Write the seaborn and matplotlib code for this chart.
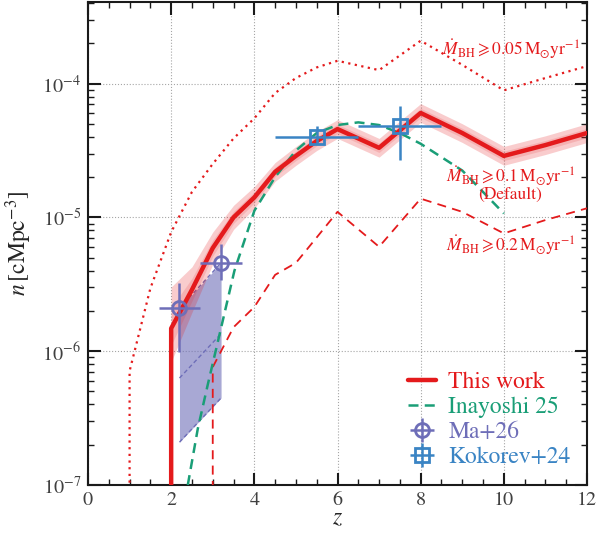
import numpy as np
import pandas as pd
import matplotlib
matplotlib.use("Agg")
import matplotlib.pyplot as plt
import seaborn as sns
from matplotlib.ticker import MultipleLocator, LogLocator

# ---------------- data ----------------
# This work (Mdot >= 0.1, default); first point lies below the axis (vertical drop)
this_z = [2, 2, 2.5, 3, 3.5, 4, 4.5, 5, 5.5, 6, 7, 8, 9, 10, 11, 12]
this_n = [1e-9, 1.48e-6, 2.88e-6, 5.9e-6, 1.0e-5, 1.41e-5, 2.19e-5, 2.88e-5,
          3.72e-5, 4.57e-5, 3.31e-5, 6.03e-5, 4.27e-5, 2.88e-5, 3.47e-5, 4.27e-5]
band_z = [2, 2.5, 3, 3.5, 4, 4.5, 5, 5.5, 6, 7, 8, 9, 10, 11, 12]
band_hi = [3.02e-6, 4.27e-6, 7.76e-6, 1.23e-5, 1.70e-5, 2.57e-5, 3.39e-5, 4.37e-5,
           5.37e-5, 3.89e-5, 7.08e-5, 5.01e-5, 3.39e-5, 4.07e-5, 5.01e-5]
band_lo = [8.3e-7, 1.95e-6, 4.47e-6, 8.13e-6, 1.17e-5, 1.86e-5, 2.45e-5, 3.16e-5,
           3.89e-5, 2.82e-5, 5.13e-5, 3.63e-5, 2.45e-5, 2.95e-5, 3.63e-5]

# Mdot >= 0.05 (dotted)
m005_z = [1, 1, 1.5, 2, 2.5, 3, 3.5, 4, 4.5, 5, 5.5, 6, 7, 8, 9, 10, 11, 12]
m005_n = [1e-9, 7.1e-7, 2.95e-6, 7.76e-6, 1.55e-5, 2.51e-5, 3.89e-5, 5.5e-5, 8.5e-5,
          1.10e-4, 1.32e-4, 1.48e-4, 1.26e-4, 2.09e-4, 1.38e-4, 8.9e-5, 1.10e-4, 1.35e-4]

# Mdot >= 0.2 (dashed)
m02_z = [3, 3, 3.5, 4, 4.5, 5, 5.5, 6, 7, 8, 9, 10, 11, 12]
m02_n = [1e-9, 7.6e-7, 1.51e-6, 2.14e-6, 3.72e-6, 4.57e-6, 7.08e-6, 1.10e-5,
         6.03e-6, 1.38e-5, 1.10e-5, 7.59e-6, 9.55e-6, 1.17e-5]

# Inayoshi 25
ina_z = [2.4, 2.64, 2.88, 3.16, 3.52, 4.0, 4.5, 5.0, 5.5, 6.0, 6.5, 7.0, 7.5, 8.0, 9.0, 10.0]
ina_n = [1e-7, 2.63e-7, 5.62e-7, 1.32e-6, 3.98e-6, 1.12e-5, 2.0e-5, 3.16e-5, 4.27e-5,
         4.9e-5, 5.13e-5, 4.9e-5, 4.27e-5, 3.55e-5, 2.24e-5, 1.07e-5]

# Ma+26
ma_z = [2.2, 3.2]
ma_n = [2.09e-6, 4.57e-6]
ma_n_hi = [3.24e-6, 6.3e-6]
ma_n_lo = [9.9e-7, 3.39e-6]
ma_xerr = [0.5, 0.5]
ma_poly_lo = [2.09e-7, 4.47e-7]
ma_poly_mid = [6.3e-7, 1.35e-6]
ma_poly_hi = [2.09e-6, 4.57e-6]

# Kokorev+24
kok_z = [5.5, 7.5]
kok_n = [4.0e-5, 4.79e-5]
kok_n_hi = [4.79e-5, 6.76e-5]
kok_n_lo = [3.55e-5, 2.69e-5]
kok_xerr = [1.0, 1.0]

RED = "#e41a1c"
GREEN = "#1a9e77"
PURPLE = "#6e6eb8"
BLUE = "#3a84c4"

# ---------------- style ----------------
sns.set_theme(style="ticks")
plt.rcParams["font.family"] = ["STIXGeneral", "DejaVu Serif"]
plt.rcParams["mathtext.fontset"] = "stix"
plt.rcParams["axes.linewidth"] = 1.5

fig = plt.figure(figsize=(5.98, 5.35), dpi=100)
ax = fig.add_axes([88 / 598, 1 - 485 / 535, (587 - 88) / 598, (485 - 2) / 535])
ax.set_yscale("log")
ax.set_xlim(0, 12)
ax.set_ylim(1e-7, 4.07e-4)

# Ma+26 shaded region
ax.fill_between(ma_z, ma_poly_lo, ma_poly_hi, color=PURPLE, alpha=0.6, lw=0, zorder=1)
for arr in (ma_poly_lo, ma_poly_mid, ma_poly_hi):
    sns.lineplot(x=ma_z, y=arr, ax=ax, color=PURPLE, lw=1.0, ls=(0, (3, 2)),
                 estimator=None, sort=False, zorder=2)

# pink band (two layers)
ax.fill_between(band_z, band_lo, band_hi, color=RED, alpha=0.22, lw=0, zorder=2)
inner_hi = [(h * n) ** 0.5 for h, n in zip(band_hi, this_n[1:])]
inner_lo = [(l * n) ** 0.5 for l, n in zip(band_lo, this_n[1:])]
ax.fill_between(band_z, inner_lo, inner_hi, color=RED, alpha=0.15, lw=0, zorder=2)

# lines
sns.lineplot(x=m005_z, y=m005_n, ax=ax, color=RED, lw=1.6, ls=(0, (1, 2)),
             estimator=None, sort=False, zorder=3)
sns.lineplot(x=m02_z, y=m02_n, ax=ax, color=RED, lw=1.3, ls=(0, (5, 3.5)),
             estimator=None, sort=False, zorder=3)
sns.lineplot(x=ina_z, y=ina_n, ax=ax, color=GREEN, lw=1.8, ls=(0, (4, 2.5)),
             estimator=None, sort=False, zorder=3)
h_ina = ax.lines[-1]
sns.lineplot(x=this_z, y=this_n, ax=ax, color=RED, lw=3.2,
             estimator=None, sort=False, zorder=4)
h_this = ax.lines[-1]

# data points
ma_yerr = [np.array(ma_n) - np.array(ma_n_lo), np.array(ma_n_hi) - np.array(ma_n)]
h_ma = ax.errorbar(ma_z, ma_n, xerr=ma_xerr, yerr=ma_yerr, fmt="o", color=PURPLE,
                   mfc="none", mec=PURPLE, mew=2, ms=10, elinewidth=1.8, capsize=0, zorder=5)
kok_yerr = [np.array(kok_n) - np.array(kok_n_lo), np.array(kok_n_hi) - np.array(kok_n)]
h_kok = ax.errorbar(kok_z, kok_n, xerr=kok_xerr, yerr=kok_yerr, fmt="s", color=BLUE,
                    mfc="none", mec=BLUE, mew=2, ms=10, elinewidth=1.8, capsize=0, zorder=5)

# annotations
ann_kw = dict(color=RED, fontsize=12.5, ha="center", va="center")
ax.text(10.16, 10 ** -3.74, r"$\dot{M}_{\rm BH}\geqslant 0.05\,{\rm M_{\odot}yr^{-1}}$", **ann_kw)
ax.text(10.16, 10 ** -4.69, r"$\dot{M}_{\rm BH}\geqslant 0.1\,{\rm M_{\odot}yr^{-1}}$", **ann_kw)
ax.text(10.16, 10 ** -4.83, "(Default)", **ann_kw)
ax.text(10.16, 10 ** -5.21, r"$\dot{M}_{\rm BH}\geqslant 0.2\,{\rm M_{\odot}yr^{-1}}$", **ann_kw)

# axes styling
ax.xaxis.set_major_locator(MultipleLocator(2))
ax.xaxis.set_minor_locator(MultipleLocator(0.5))
ax.yaxis.set_major_locator(LogLocator(base=10, numticks=10))
ax.yaxis.set_minor_locator(LogLocator(base=10, subs=np.arange(2, 10), numticks=20))
ax.tick_params(which="major", direction="in", length=9, width=1.5, top=True, right=True,
               labelsize=14.5, colors="0.1", labelcolor="0.25", pad=5)
ax.tick_params(which="minor", direction="in", length=4.5, width=1.0, top=True, right=True,
               colors="0.1")
ax.grid(True, which="major", ls=":", color="0.65", lw=0.8)
ax.set_axisbelow(True)
for s in ax.spines.values():
    s.set_color("0.1")

ax.set_xlabel(r"$z$", fontsize=17, labelpad=-1)
ax.set_ylabel(r"$n\,[{\rm cMpc}^{-3}]$", fontsize=17, labelpad=6)

leg = ax.legend([h_this, h_ina, h_ma, h_kok],
                ["This work", "Inayoshi 25", "Ma+26", "Kokorev+24"],
                loc="lower right", frameon=False, handlelength=1.2,
                handletextpad=0.5, labelspacing=0.15, borderaxespad=0.3,
                prop={"family": "STIXGeneral", "size": 17})
for t, c in zip(leg.get_texts(), [RED, GREEN, PURPLE, BLUE]):
    t.set_color(c)

fig.savefig("out.png", dpi=100)
